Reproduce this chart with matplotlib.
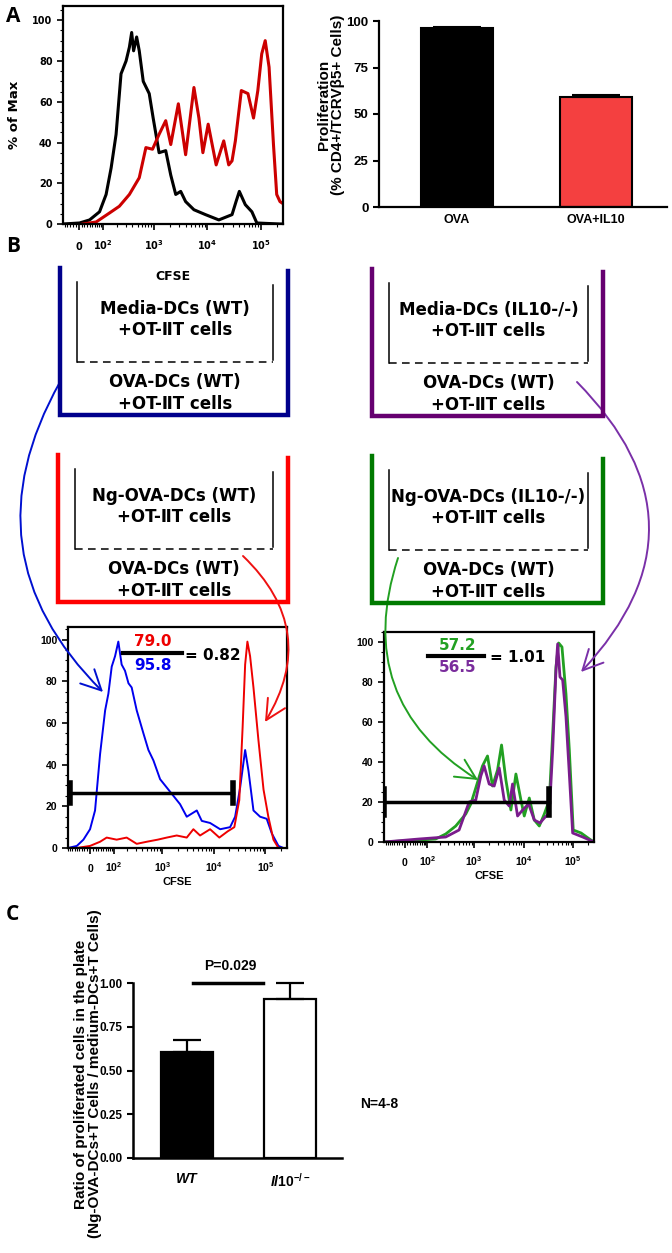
import numpy as np
import matplotlib
matplotlib.use("Agg")
import matplotlib.pyplot as plt
from matplotlib.patches import FancyArrowPatch
from matplotlib.ticker import FixedLocator, AutoMinorLocator

plt.rcParams['mathtext.fontset'] = 'custom'
plt.rcParams['mathtext.bf'] = 'Liberation Sans:bold'
plt.rcParams['mathtext.rm'] = 'Liberation Sans:bold'
plt.rcParams['mathtext.sf'] = 'DejaVu Sans:bold'
plt.rcParams['mathtext.it'] = 'Liberation Sans:italic:bold'

W, H = 672, 1253

# ---- data ----
# panel A histogram (CFSE intensity, % of max)
a_black_x = [-58, 3, 39, 82, 118, 152, 192, 241, 302, 350, 387, 421, 481, 539, 641, 830, 984,
             1270, 1690, 2100, 2600, 3220, 3980, 5690, 9360, 16600, 29300, 34800, 40100, 51800,
             68800, 85100, 230000, 262000]
a_black_y = [0, 0.5, 2, 6, 14.5, 27.6, 44, 73.7, 80, 86.8, 94, 85, 91.8, 85, 70, 64, 52,
             35, 36, 24, 14.5, 16, 11, 7, 4.6, 2, 4.6, 11, 16, 9.5,
             6, 0.5, 0, 0]
a_red_x = [15, 66, 140, 223, 350, 539, 719, 957, 1270, 1690, 2100, 2910, 3980, 5690, 7050, 8360,
           10500, 14800, 20500, 25400, 29300, 33800, 43700, 58100, 73800, 88800, 105000, 122000,
           144000, 174000, 200000, 230000, 262000]
a_red_y = [0, 1, 5.4, 8.7, 14.5, 22.7, 37.5, 36.7, 44, 50.7, 39, 59, 34, 67, 52, 35,
           49, 29, 40.8, 29, 31, 40.8, 65.5, 64, 52, 65.5, 83.5, 90,
           77, 39, 14.5, 11, 10]

# panel A bars
a_bar_labels = ['OVA', 'OVA+IL10']
a_bar_vals = [96.5, 59.0]
a_bar_err = [0.5, 1.4]

# panel B left histogram
bl_blue_x = [-92, -50, -24, 0, 18, 37, 58, 73, 90, 109, 130, 154, 182, 215, 250, 316, 429, 538,
             674, 909, 1225, 1650, 2220, 2990, 4680, 5850, 8480, 13300, 20700, 25900, 32400,
             40500, 47000, 58700, 79000, 106000, 133000, 179000, 224000]
bl_blue_y = [0, 1, 4, 9, 18, 45, 66, 74, 87, 92, 99, 88, 85, 79, 77, 66, 55, 47,
             42, 33, 29, 25, 21, 15, 18, 13, 12, 9, 10, 15, 29,
             47, 37, 18, 15, 14, 7, 1, 0]
bl_red_x = [-50, 0, 37, 65, 119, 197, 316, 499, 817, 1225, 1910, 2990, 4020, 5420, 8480, 12800,
            18600, 25000, 31200, 36200, 40500, 44800, 50500, 58700, 73100, 92000, 114000,
            143000, 179000]
bl_red_y = [0, 1, 3, 5, 4, 5, 2, 3, 4, 5, 6, 5, 9, 6, 9, 5,
            8, 10, 23, 58, 88, 99, 92, 77, 52, 28, 15,
            4, 0]
bl_gate = (-81, 23600, 26.3)

# panel B right histogram
br_green_x = [-89, 57, 159, 263, 425, 680, 860, 1084, 1480, 1870, 2360, 2980, 3590, 4390, 5540,
              6990, 8820, 10300, 13000, 16400, 20700, 26100, 33000, 38500, 44900, 50800, 59300,
              71400, 83400, 100000, 144000, 212000, 262000]
br_green_y = [0, 1, 1.5, 4, 8, 14, 19, 27, 38, 43, 28, 36, 48.5, 31, 16,
              34, 21, 13, 22, 11, 8, 14, 21, 54, 87.5, 99.5, 97.5,
              74, 46, 6, 4.5, 1.5, 0]
br_purple_x = [-89, 57, 263, 497, 795, 1084, 1370, 1600, 2020, 2550, 3220, 4060, 5130, 5980, 7550,
               9530, 12600, 16400, 21400, 26100, 33000, 38500, 44900, 48500, 54100, 61200,
               71400, 83400, 97400, 155000, 262000]
br_purple_y = [0, 1.5, 2.5, 6, 20, 21, 33, 38, 29, 28, 37, 21, 18, 29, 13,
               16, 19, 11, 9.5, 12, 14.5, 46, 86, 99, 82.5, 81,
               62.6, 34, 4.5, 2.5, 0]
br_gate = (-89, 33000, 20)

# panel C bars
c_labels = ['WT', r'$\mathit{Il10^{-/-}}$']
c_vals = [0.606, 0.909]
c_err = [0.068, 0.091]
c_pval = 'P=0.029'

C = 80.0


def fwd(x):
    return np.arcsinh(np.asarray(x) / C)


def inv(y):
    return C * np.sinh(y)


def rect_px(l, t, r, b):
    return [l / W, 1 - b / H, (r - l) / W, (b - t) / H]


fig = plt.figure(figsize=(W / 100, H / 100), dpi=100)

majors = [0, 1e2, 1e3, 1e4, 1e5]
minors = ([-v for v in range(10, 100, 10)] + list(range(10, 100, 10)) +
          [m * 10 ** k for k in (2, 3, 4) for m in range(2, 10)] + [2e5])


def flow_axes(rect, xlim, ylim, fam, tsize, xlabels, pad):
    ax = fig.add_axes(rect)
    ax.set_xscale('function', functions=(fwd, inv))
    ax.set_xlim(*xlim)
    ax.set_ylim(*ylim)
    ax.xaxis.set_major_locator(FixedLocator(majors))
    ax.xaxis.set_minor_locator(FixedLocator(minors))
    ax.set_xticks(majors, xlabels, fontsize=tsize, fontweight='bold', fontfamily=fam)
    for lab in ax.get_xticklabels():
        lab.set_verticalalignment('baseline')
    ax.set_yticks([0, 20, 40, 60, 80, 100], ['0', '20', '40', '60', '80', '100'],
                  fontsize=tsize, fontweight='bold', fontfamily=fam)
    ax.yaxis.set_minor_locator(AutoMinorLocator(4))
    ax.tick_params(direction='out', length=4, width=1.2)
    ax.tick_params(which='minor', direction='out', length=2, width=0.8)
    ax.tick_params(axis='x', pad=pad)
    for s in ax.spines.values():
        s.set_linewidth(1.6)
    return ax


# ---- panel A histogram ----
a_xlabels = ['0', r'$\mathsf{10^{2}}$', r'$\mathsf{10^{3}}$', r'$\mathsf{10^{4}}$', r'$\mathsf{10^{5}}$']
ax = flow_axes(rect_px(63, 6, 283, 224), (-58, 262144), (0, 107), 'DejaVu Sans', 7, a_xlabels, 15)
ax.plot(a_black_x, a_black_y, color='black', lw=2.2)
ax.plot(a_red_x, a_red_y, color='#cc0000', lw=2.2)
ax.set_ylabel('% of Max', fontsize=9.5, fontweight='bold', fontfamily='DejaVu Sans', labelpad=8)

# ---- panel A bars ----
ax = fig.add_axes(rect_px(379, 21, 667, 207))
ax.bar([0, 1], a_bar_vals, width=0.52, color=['black', '#f44040'], edgecolor='black', lw=1.5)
ax.errorbar([0, 1], a_bar_vals, yerr=[[0, 0], a_bar_err], fmt='none', ecolor='black',
            capsize=17, elinewidth=1.5, capthick=1.5)
ax.set_xlim(-0.56, 1.51)
ax.set_ylim(0, 100)
ax.set_yticks([0, 25, 50, 75, 100], ['0', '25', '50', '75', '100'], fontsize=9.5,
              fontweight='bold', fontfamily='Liberation Sans')
ax.set_xticks([0, 1], a_bar_labels, fontsize=9, fontweight='bold', fontfamily='Liberation Sans')
ax.tick_params(axis='x', length=0, pad=5)
ax.tick_params(axis='y', length=4, width=1.5)
for s in ['top', 'right']:
    ax.spines[s].set_visible(False)
for s in ['left', 'bottom']:
    ax.spines[s].set_linewidth(1.6)
ax.set_ylabel('Proliferation\n(% CD4+/TCRV\u03b25+ Cells)', fontsize=11, fontweight='bold',
              fontfamily='Liberation Sans', linespacing=1.0)
ax.yaxis.set_label_coords(-0.118, 0.55)

# ---- panel B histograms ----
b_xlabels = ['0', r'$\mathbf{10^{2}}$', r'$\mathbf{10^{3}}$', r'$\mathbf{10^{4}}$', r'$\mathbf{10^{5}}$']
ax = flow_axes(rect_px(68, 627, 287, 848), (-92, 262144), (0, 106), 'Liberation Sans', 7.5,
               b_xlabels, 13)
ax.plot(bl_blue_x, bl_blue_y, color='#0000ee', lw=1.4)
ax.plot(bl_red_x, bl_red_y, color='#ee0000', lw=1.4)
x0, x1, gy = bl_gate
ax.plot([x0, x1], [gy, gy], color='black', lw=2.5)
ax.plot([x0, x0], [gy - 4.8, gy + 4.8], color='black', lw=4)
ax.plot([x1, x1], [gy - 4.8, gy + 4.8], color='black', lw=4)

ax = flow_axes(rect_px(384, 632, 594, 842), (-89, 262144), (0, 105), 'Liberation Sans', 7.5,
               b_xlabels, 13)
ax.plot(br_green_x, br_green_y, color='#22a022', lw=2)
ax.plot(br_purple_x, br_purple_y, color='#7a1c8c', lw=2)
x0, x1, gy = br_gate
ax.plot([x0, x1], [gy, gy], color='black', lw=2.5)
ax.plot([x0, x0], [gy - 6.5, gy + 6.5], color='black', lw=4)
ax.plot([x1, x1], [gy - 6.5, gy + 6.5], color='black', lw=4)

# ---- panel C ----
ax = fig.add_axes(rect_px(133, 983, 342, 1158))
ax.bar([0, 1], c_vals, width=0.5, color=['black', 'white'], edgecolor='black', lw=1.6)
ax.errorbar([0, 1], c_vals, yerr=[[0, 0], c_err], fmt='none', ecolor='black',
            capsize=10, elinewidth=1.6, capthick=1.6, clip_on=False)
ax.set_xlim(-0.52, 1.5)
ax.set_ylim(0, 1.0)
ax.set_yticks([0, 0.25, 0.5, 0.75, 1.0], ['0.00', '0.25', '0.50', '0.75', '1.00'], fontsize=8.5,
              fontweight='bold', fontfamily='Liberation Sans')
ax.set_xticks([0, 1], c_labels, fontsize=10, fontweight='bold', fontstyle='italic',
              fontfamily='Liberation Sans')
ax.tick_params(axis='x', length=0, pad=10)
ax.tick_params(axis='y', length=4, width=1.5)
for s in ['top', 'right']:
    ax.spines[s].set_visible(False)
for s in ['left', 'bottom']:
    ax.spines[s].set_linewidth(1.8)
ax.plot([0.06, 0.74], [1.0, 1.0], color='black', lw=2.5, clip_on=False)
ax.text(0.42, 1.06, c_pval, ha='center', va='bottom', fontsize=10, fontweight='bold',
        fontfamily='Liberation Sans')
ax.set_ylabel('Ratio of proliferated cells in the plate\n(Ng-OVA-DCs+T Cells / medium-DCs+T Cells)',
              fontsize=11, fontweight='bold', fontfamily='Liberation Sans', linespacing=0.95)
ax.yaxis.set_label_coords(-0.15, 0.48)

# ---- overlay: wells, arrows, text ----
ov = fig.add_axes([0, 0, 1, 1], zorder=10)
ov.set_xlim(0, W)
ov.set_ylim(H, 0)
ov.axis('off')
ov.patch.set_alpha(0)

well_top = ['Media-DCs (WT)', 'Ng-OVA-DCs (WT)', 'Media-DCs (\u2160L10-/-)', 'Ng-OVA-DCs (\u2160L10-/-)']
well_bottom = 'OVA-DCs (WT)'
cells = '+OT-\u2161T cells'
well_colors = ['#00008c', '#ff0000', '#660070', '#007a00']
well_pos = [(60, 288, 268), (58, 288, 455), (372, 603, 269), (372, 603, 456)]

tfont = dict(fontsize=12, fontweight='bold', fontfamily='DejaVu Sans', ha='center', va='center')
for (xl, xr, top), col, label in zip(well_pos, well_colors, well_top):
    bot = top + 147
    ov.plot([xl, xl, xr, xr], [top, bot, bot, top + 3], color=col, lw=3.2,
            solid_joinstyle='miter')
    il, ir = xl + 17, xr - 15
    dash = top + 94
    ov.plot([il, il], [top + 14, dash], color='black', lw=1.1)
    ov.plot([ir, ir], [top + 17, dash - 2], color='black', lw=1.1)
    ov.plot([il, ir], [dash, dash], color='black', lw=1.1, ls=(0, (5, 3.5)))
    cx = (il + ir) / 2
    ov.text(cx, top + 41, label, **tfont)
    ov.text(cx, top + 62, cells, **tfont)
    ov.text(cx, top + 114, well_bottom, **tfont)
    ov.text(cx, top + 136, cells, **tfont)

arrows = [((60, 382), (103, 692), 0.38, '#0010d0'),
          ((243, 556), (265, 722), -0.40, '#ee1111'),
          ((577, 382), (581, 672), -0.48, '#7a30a8'),
          ((398, 558), (478, 780), 0.39, '#22a022')]
for pa, pb, rad, col in arrows:
    ov.add_patch(FancyArrowPatch(pa, pb, connectionstyle=f'arc3,rad={rad}',
                                 arrowstyle='->,head_length=0.8,head_width=0.4',
                                 mutation_scale=18, color=col, lw=1.4,
                                 shrinkA=0, shrinkB=0))

# fractions
ffont = dict(fontsize=11, fontweight='bold', fontfamily='DejaVu Sans')
ov.text(153, 642, '79.0', color='#ee0000', ha='center', va='center', **ffont)
ov.text(153, 665, '95.8', color='#0000ee', ha='center', va='center', **ffont)
ov.plot([123, 182], [653, 653], color='black', lw=3)
ov.text(185, 655, '= 0.82', color='black', ha='left', va='center', **ffont)
ov.text(458, 645, '57.2', color='#22a022', ha='center', va='center', **ffont)
ov.text(458, 668, '56.5', color='#7a2c9c', ha='center', va='center', **ffont)
ov.plot([428, 484], [656, 656], color='black', lw=3)
ov.text(490, 657, '= 1.01', color='black', ha='left', va='center', **ffont)

# axis titles and panel letters
ov.text(173, 276, 'CFSE', fontsize=9, fontweight='bold', fontfamily='DejaVu Sans',
        ha='center', va='center')
ov.text(177, 882, 'CFSE', fontsize=8, fontweight='bold', fontfamily='Liberation Sans',
        ha='center', va='center')
ov.text(489, 876, 'CFSE', fontsize=8, fontweight='bold', fontfamily='Liberation Sans',
        ha='center', va='center')
ov.text(360, 1104, 'N=4-8', fontsize=10, fontweight='bold', fontfamily='Liberation Sans',
        ha='left', va='center')
for letter, (lx, ly) in zip(['A', 'B', 'C'], [(13, 17), (13, 247), (12, 915)]):
    ov.text(lx, ly, letter, fontsize=15, fontweight='bold', fontfamily='Open Sans',
            ha='center', va='center')

fig.savefig('out.png', dpi=100)
